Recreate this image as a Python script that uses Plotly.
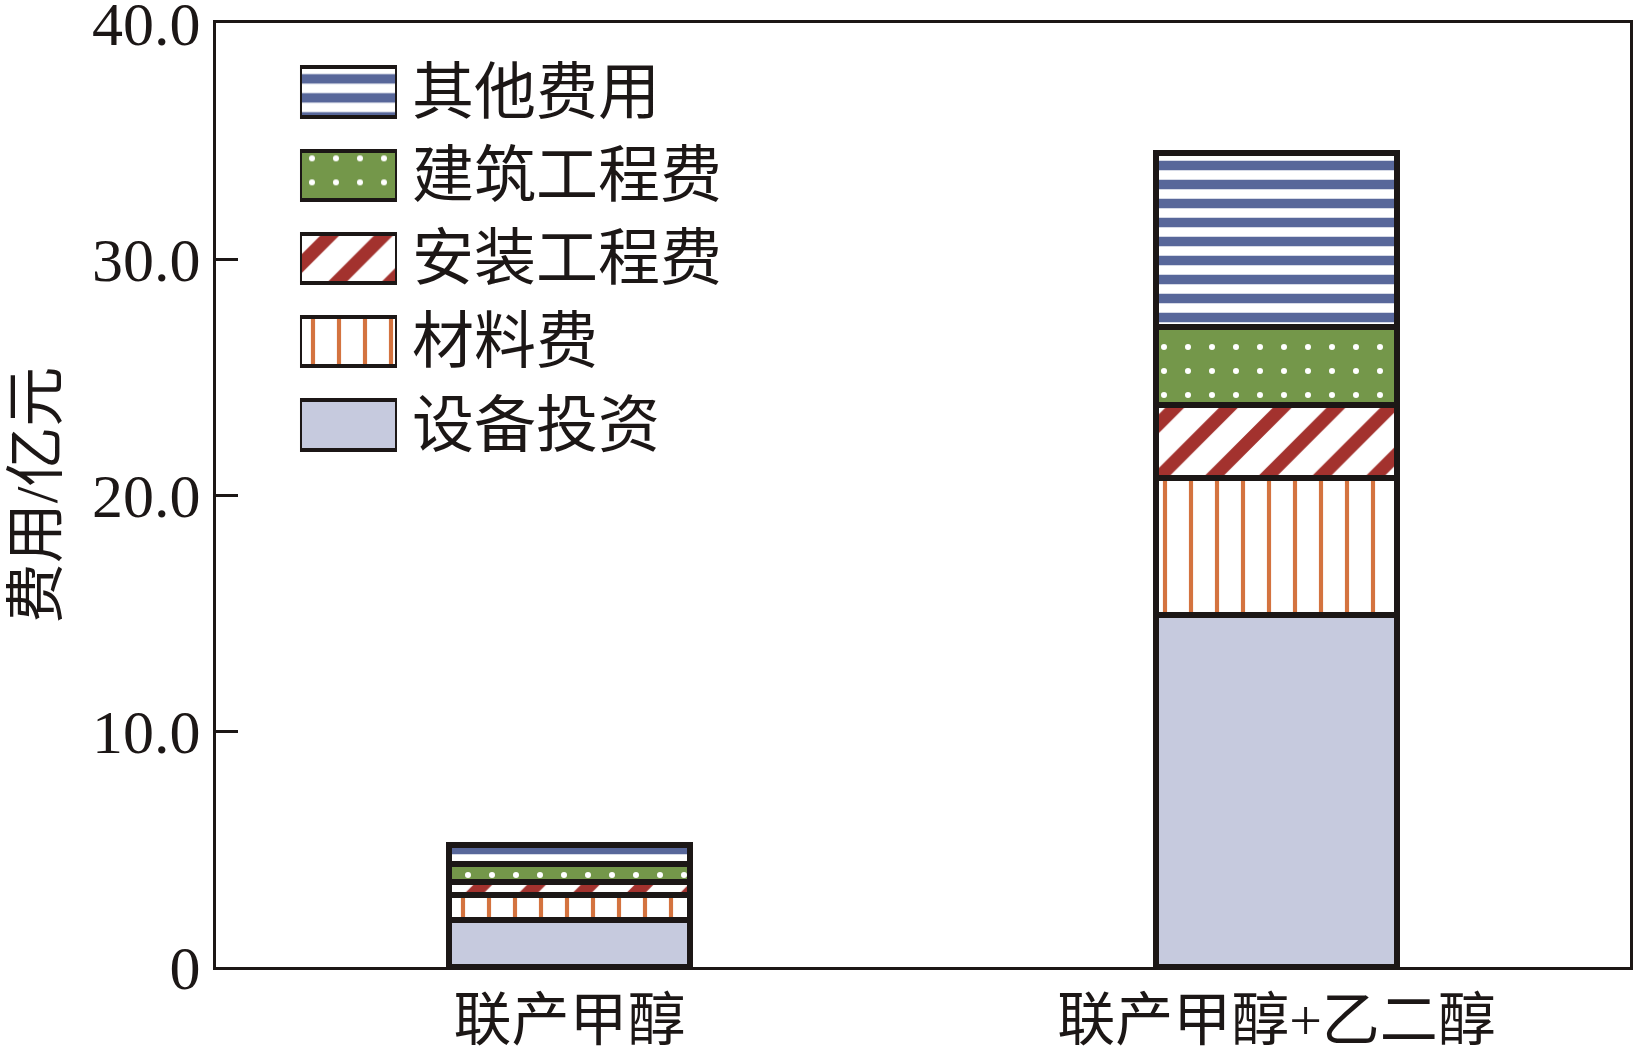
import plotly.graph_objects as go

# ---- data ----
categories = ["联产甲醇", "联产甲醇+乙二醇"]
series_names = ["设备投资", "材料费", "安装工程费", "建筑工程费", "其他费用"]
equipment = [2.0, 14.9]
materials = [1.05, 5.8]
installation = [0.55, 3.1]
construction = [0.76, 3.3]
other = [0.81, 7.4]
series_values = [equipment, materials, installation, construction, other]
y_tickvals = [0, 10, 20, 30, 40]
y_ticktext = ["0", "10.0", "20.0", "30.0", "40.0"]
y_title = "费用/亿元"

# ---- styles ----
styles = {
    "设备投资": dict(color="#C6CADE", shape="", fg="#C6CADE", size=10, sol=0.3),
    "材料费": dict(color="#FFFFFF", shape="|", fg="#D4733F", size=26, sol=0.16),
    "安装工程费": dict(color="#FFFFFF", shape="/", fg="#A3322E", size=38, sol=0.35),
    "建筑工程费": dict(color="#74974A", shape=".", fg="#FFFFFF", size=24, sol=0.05),
    "其他费用": dict(color="#FFFFFF", shape="-", fg="#58679A", size=19, sol=0.5),
}
FONT = "Liberation Serif, Noto Sans CJK SC, serif"
BLACK = "#1c1716"


def marker_for(name, lw):
    s = styles[name]
    return dict(color=s["color"], line=dict(color=BLACK, width=lw),
                pattern=dict(shape=s["shape"], fgcolor=s["fg"], bgcolor=s["color"],
                             size=s["size"], solidity=s["sol"], fillmode="replace"))


fig = go.Figure()
for name, vals in zip(series_names, series_values):
    fig.add_trace(go.Bar(
        x=categories, y=vals, name=name, width=0.34,
        marker=marker_for(name, 6), showlegend=False,
    ))

# legend built as horizontal bars on an auxiliary axis
legend_order = series_names  # bottom to top
for name in legend_order:
    fig.add_trace(go.Bar(
        x=[1], y=[name], orientation="h", name=name,
        xaxis="x2", yaxis="y2", width=0.59, showlegend=False,
        marker=marker_for(name, 4),
    ))

fig.update_layout(
    width=1633, height=1051,
    margin=dict(l=216, r=3, t=23, b=84),
    paper_bgcolor="white", plot_bgcolor="white",
    barmode="stack",
    font=dict(family=FONT, color=BLACK),
    showlegend=False,
    xaxis=dict(
        type="category", range=[-0.5, 1.5], automargin=False,
        showline=True, linewidth=3, linecolor=BLACK, mirror=True,
        ticks="", tickfont=dict(size=58, family=FONT, color=BLACK),
        ticklabelstandoff=0, showgrid=False, zeroline=False,
    ),
    yaxis=dict(
        range=[0, 40], tickvals=y_tickvals, ticktext=y_ticktext, automargin=False,
        showline=True, linewidth=3, linecolor=BLACK, mirror=True,
        ticks="inside", ticklen=22, tickwidth=3, tickcolor=BLACK,
        tickfont=dict(size=62, family=FONT, color=BLACK),
        ticklabeloverflow="allow",
        title=dict(text=y_title, font=dict(size=60, family=FONT, color=BLACK), standoff=16),
        showgrid=False, zeroline=False,
    ),
    xaxis2=dict(domain=[0.0594, 0.128], range=[0, 1], anchor="y2",
                visible=False, fixedrange=True),
    yaxis2=dict(domain=[0.530, 0.971], anchor="x2", side="right", automargin=False,
                type="category", categoryorder="array", categoryarray=legend_order,
                range=[-0.5, len(legend_order) - 0.5],
                showline=False, ticks="", showgrid=False, zeroline=False,
                tickfont=dict(size=62, family=FONT, color=BLACK),
                ticklabelstandoff=14),
)

fig.write_html("out.html", config={"displayModeBar": False},
               post_script="document.body.style.margin='0';")
